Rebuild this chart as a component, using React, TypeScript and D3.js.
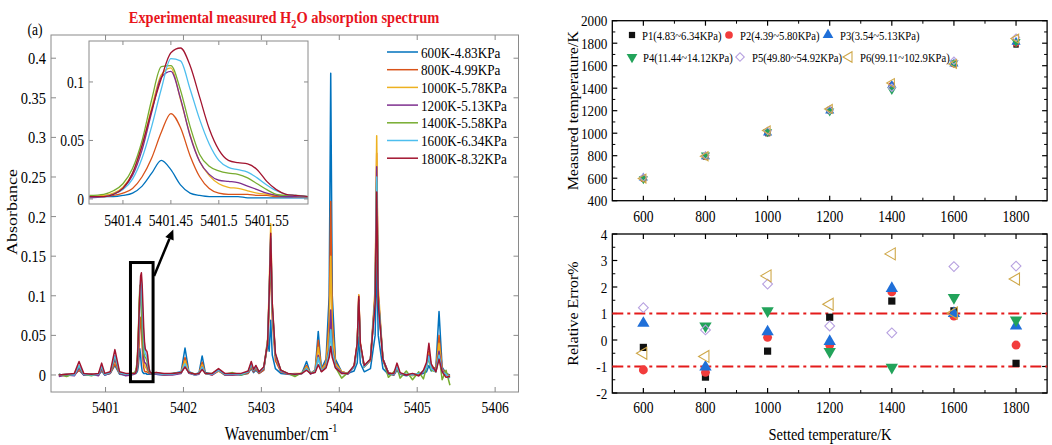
import React from "react";
import * as d3 from "d3";

// ---------------- Panel (a): spectrum data ----------------
const seriesLabels = [
  "600K-4.83KPa", "800K-4.99KPa", "1000K-5.78KPa", "1200K-5.13KPa",
  "1400K-5.58KPa", "1600K-6.34KPa", "1800K-8.32KPa",
];

const wnMain = [
  5400.40, 5400.50, 5400.60, 5400.66, 5400.72, 5400.82, 5400.91, 5400.95, 5400.99, 5401.06,
  5401.12, 5401.18, 5401.26, 5401.33, 5401.65, 5401.75, 5401.86, 5401.97, 5402.02, 5402.07,
  5402.15, 5402.20, 5402.24, 5402.28, 5402.37, 5402.45, 5402.53, 5402.63, 5402.74, 5402.83,
  5402.87, 5402.90, 5402.93, 5402.97, 5403.03, 5403.08, 5403.10, 5403.12, 5403.14, 5403.18,
  5403.25, 5403.34, 5403.43, 5403.52, 5403.58, 5403.63, 5403.69, 5403.73, 5403.77, 5403.83,
  5403.87, 5403.89, 5403.91, 5403.95, 5404.03, 5404.11, 5404.19, 5404.23, 5404.25, 5404.27,
  5404.32, 5404.40, 5404.46, 5404.48, 5404.50, 5404.56, 5404.63, 5404.70, 5404.74, 5404.78,
  5404.86, 5404.94, 5405.02, 5405.08, 5405.12, 5405.15, 5405.18, 5405.24, 5405.28, 5405.32,
  5405.37, 5405.42,
];

const abs600 = [
  0.001, -0.001, 0.001, 0.006, 0.000, 0.001, 0.000, 0.005, 0.000, 0.002,
  0.012, 0.001, 0.000, 0.001, 0.001, 0.000, 0.002, 0.004, 0.034, 0.004,
  0.001, 0.003, 0.024, 0.003, 0.001, 0.006, 0.000, 0.001, 0.000, 0.002,
  0.008, 0.003, 0.006, 0.002, 0.006, 0.044, 0.030, 0.069, 0.025, 0.008,
  0.002, 0.001, 0.000, 0.002, 0.017, 0.002, 0.006, 0.055, 0.008, 0.020,
  0.100, 0.381, 0.100, 0.020, 0.004, 0.002, 0.005, 0.015, 0.048, 0.015,
  0.004, 0.008, 0.050, 0.145, 0.050, 0.008, 0.001, 0.000, 0.006, 0.001,
  -0.001, 0.001, 0.000, 0.002, 0.004, 0.012, 0.005, 0.010, 0.080, 0.010,
  0.002, 0.000,
];
const abs800 = [
  0.000, 0.001, 0.000, 0.006, 0.001, 0.000, 0.001, 0.006, 0.001, 0.002,
  0.014, 0.002, 0.001, 0.001, 0.002, 0.001, 0.001, 0.003, 0.022, 0.003,
  0.000, 0.002, 0.016, 0.002, 0.000, 0.005, 0.001, 0.000, 0.001, 0.002,
  0.010, 0.004, 0.008, 0.002, 0.006, 0.040, 0.085, 0.150, 0.070, 0.018,
  0.004, 0.001, 0.001, 0.002, 0.012, 0.002, 0.005, 0.044, 0.007, 0.016,
  0.070, 0.219, 0.070, 0.016, 0.004, 0.002, 0.010, 0.040, 0.101, 0.040,
  0.010, 0.018, 0.100, 0.280, 0.100, 0.018, 0.003, 0.001, 0.008, 0.002,
  0.000, 0.001, 0.001, 0.004, 0.012, 0.030, 0.010, 0.008, 0.050, 0.008,
  0.002, -0.001,
];
const abs1000 = [
  0.000, 0.000, 0.001, 0.008, 0.001, 0.001, 0.000, 0.007, 0.001, 0.003,
  0.018, 0.002, 0.000, 0.001, 0.002, 0.000, 0.001, 0.003, 0.018, 0.003,
  0.001, 0.002, 0.013, 0.002, 0.001, 0.005, 0.000, 0.001, 0.001, 0.003,
  0.012, 0.005, 0.009, 0.003, 0.008, 0.045, 0.110, 0.191, 0.090, 0.025,
  0.005, 0.001, 0.002, 0.002, 0.010, 0.002, 0.005, 0.035, 0.006, 0.014,
  0.055, 0.150, 0.055, 0.014, 0.004, 0.002, 0.010, 0.040, 0.101, 0.040,
  0.010, 0.020, 0.110, 0.302, 0.110, 0.020, 0.003, 0.000, 0.008, 0.002,
  0.001, -0.001, 0.001, 0.004, 0.011, 0.028, 0.010, 0.007, 0.040, 0.007,
  0.001, -0.002,
];
const abs1200 = [
  -0.002, 0.000, -0.001, 0.009, 0.000, 0.001, -0.001, 0.008, 0.000, 0.002,
  0.020, 0.002, -0.001, 0.000, 0.001, 0.000, 0.000, 0.002, 0.012, 0.002,
  0.000, 0.001, 0.010, 0.002, 0.000, 0.006, 0.000, 0.000, 0.001, 0.003,
  0.013, 0.005, 0.010, 0.003, 0.008, 0.040, 0.100, 0.172, 0.085, 0.025,
  0.005, 0.001, 0.001, 0.002, 0.008, 0.001, 0.004, 0.025, 0.005, 0.011,
  0.035, 0.082, 0.035, 0.011, 0.003, 0.001, 0.010, 0.038, 0.095, 0.038,
  0.010, 0.020, 0.100, 0.263, 0.100, 0.020, 0.003, 0.000, 0.009, 0.002,
  0.000, 0.001, -0.001, 0.004, 0.010, 0.025, 0.009, 0.006, 0.030, 0.006,
  0.000, -0.003,
];
const abs1400 = [
  0.001, -0.002, 0.002, 0.011, 0.001, -0.001, 0.002, 0.010, 0.001, 0.003,
  0.024, 0.003, 0.001, 0.002, 0.003, 0.001, 0.002, 0.003, 0.012, 0.003,
  0.001, 0.002, 0.009, 0.002, 0.002, 0.007, 0.001, 0.003, 0.000, 0.004,
  0.014, 0.006, 0.011, 0.004, 0.009, 0.038, 0.095, 0.168, 0.080, 0.025,
  0.006, 0.002, -0.002, 0.003, 0.008, 0.002, 0.004, 0.022, 0.005, 0.010,
  0.030, 0.057, 0.030, 0.010, -0.004, 0.003, 0.010, 0.036, 0.090, 0.036,
  0.010, 0.020, 0.095, 0.244, 0.095, 0.020, -0.003, 0.004, 0.010, -0.004,
  0.005, -0.006, 0.004, -0.005, 0.010, 0.022, 0.006, 0.004, 0.025, -0.006,
  0.006, -0.013,
];
const abs1600 = [
  0.000, 0.001, 0.000, 0.012, 0.001, 0.000, 0.001, 0.011, 0.001, 0.003,
  0.025, 0.003, 0.001, 0.001, 0.002, 0.001, 0.001, 0.003, 0.014, 0.003,
  0.000, 0.002, 0.010, 0.002, 0.001, 0.006, 0.001, 0.001, 0.001, 0.004,
  0.014, 0.006, 0.011, 0.004, 0.009, 0.040, 0.100, 0.175, 0.085, 0.026,
  0.005, 0.002, 0.001, 0.002, 0.008, 0.002, 0.004, 0.022, 0.005, 0.010,
  0.030, 0.057, 0.030, 0.010, 0.002, 0.002, 0.010, 0.037, 0.092, 0.037,
  0.010, 0.020, 0.095, 0.250, 0.095, 0.020, 0.002, 0.001, 0.010, 0.002,
  0.001, 0.000, 0.002, 0.004, 0.010, 0.024, 0.008, 0.004, 0.025, 0.004,
  0.001, -0.004,
];
const abs1800 = [
  0.000, 0.001, 0.002, 0.017, 0.002, 0.001, 0.002, 0.015, 0.002, 0.004,
  0.032, 0.004, 0.002, 0.002, 0.003, 0.002, 0.002, 0.003, 0.010, 0.003,
  0.001, 0.002, 0.007, 0.002, 0.002, 0.008, 0.002, 0.002, 0.002, 0.005,
  0.017, 0.007, 0.012, 0.004, 0.010, 0.040, 0.100, 0.179, 0.090, 0.027,
  0.006, 0.002, 0.001, 0.002, 0.006, 0.002, 0.003, 0.013, 0.004, 0.009,
  0.022, 0.036, 0.022, 0.009, 0.002, 0.002, 0.012, 0.040, 0.099, 0.040,
  0.012, 0.020, 0.090, 0.231, 0.090, 0.020, 0.002, 0.002, 0.015, 0.003,
  0.000, 0.002, -0.001, 0.006, 0.016, 0.040, 0.014, 0.004, 0.020, 0.004,
  -0.003, -0.002,
];

// inset (zoomed peak near 5401.45)
const wnInset = [
  5401.365, 5401.38, 5401.39, 5401.40, 5401.41, 5401.42, 5401.43, 5401.44, 5401.45, 5401.46,
  5401.47, 5401.48, 5401.49, 5401.50, 5401.51, 5401.52, 5401.53, 5401.54, 5401.55, 5401.56,
  5401.57, 5401.58, 5401.593,
];
const ins600 = [0.002, 0.002, 0.002, 0.003, 0.005, 0.011, 0.022, 0.033, 0.025, 0.012, 0.005, 0.003, 0.002, 0.002, 0.002, 0.002, 0.001, 0.001, 0.001, 0.001, 0.001, 0.001, 0.001];
const ins800 = [0.002, 0.002, 0.003, 0.005, 0.009, 0.019, 0.035, 0.057, 0.073, 0.061, 0.037, 0.019, 0.009, 0.005, 0.004, 0.004, 0.004, 0.003, 0.003, 0.002, 0.002, 0.002, 0.002];
const ins1000 = [0.002, 0.003, 0.005, 0.010, 0.022, 0.045, 0.078, 0.106, 0.112, 0.085, 0.055, 0.032, 0.020, 0.013, 0.010, 0.009, 0.007, 0.005, 0.004, 0.003, 0.003, 0.002, 0.002];
const ins1200 = [0.001, 0.002, 0.004, 0.009, 0.020, 0.042, 0.074, 0.104, 0.109, 0.086, 0.054, 0.032, 0.021, 0.016, 0.015, 0.014, 0.011, 0.008, 0.005, 0.003, 0.002, 0.002, 0.002];
const ins1400 = [0.003, 0.004, 0.007, 0.013, 0.026, 0.050, 0.085, 0.113, 0.114, 0.093, 0.062, 0.038, 0.028, 0.024, 0.022, 0.021, 0.018, 0.013, 0.008, 0.004, 0.003, 0.003, 0.002];
const ins1600 = [0.002, 0.002, 0.004, 0.008, 0.017, 0.035, 0.062, 0.094, 0.120, 0.118, 0.094, 0.068, 0.047, 0.033, 0.027, 0.025, 0.023, 0.018, 0.012, 0.007, 0.004, 0.003, 0.002];
const ins1800 = [0.002, 0.002, 0.004, 0.009, 0.022, 0.046, 0.076, 0.103, 0.125, 0.129, 0.114, 0.087, 0.060, 0.042, 0.033, 0.031, 0.030, 0.025, 0.015, 0.008, 0.004, 0.003, 0.002];

const xTicksA = [5401, 5402, 5403, 5404, 5405, 5406];
const yTicksA = [0, 0.05, 0.1, 0.15, 0.2, 0.25, 0.3, 0.35, 0.4];
const xTicksIn = [5401.4, 5401.45, 5401.5, 5401.55];
const yTicksIn = [0, 0.05, 0.1];

// ---------------- Panel (b) data ----------------
const setTemps = [600, 800, 1000, 1200, 1400, 1600, 1800];
const pLabels = [
  "P1(4.83~6.34KPa)", "P2(4.39~5.80KPa)", "P3(3.54~5.13KPa)",
  "P4(11.44~14.12KPa)", "P5(49.80~54.92KPa)", "P6(99.11~102.9KPa)",
];
const measP1 = [598, 789, 996, 1210, 1421, 1618, 1784];
const measP2 = [593, 790, 1001, 1198, 1425, 1614, 1797];
const measP3 = [604, 792, 1003, 1199, 1427, 1616, 1810];
const measP4 = [594, 804, 1011, 1195, 1386, 1626, 1814];
const measP5 = [607, 803, 1021, 1206, 1404, 1644, 1850];
const measP6 = [597, 795, 1024, 1216, 1446, 1616, 1841];

const errP1 = [-0.28, -1.40, -0.42, 0.86, 1.47, 1.10, -0.88];
const errP2 = [-1.13, -1.22, 0.10, -0.19, 1.82, 0.90, -0.19];
const errP3 = [0.63, -1.02, 0.31, -0.05, 1.95, 1.00, 0.53];
const errP4 = [null, 0.53, 1.10, -0.44, -1.03, 1.60, 0.75];
const errP5 = [1.22, 0.38, 2.11, 0.53, 0.27, 2.77, 2.79];
const errP6 = [-0.50, -0.62, 2.42, 1.35, 3.25, 1.02, 2.30];
const errBands = [1, -1];

const tempTicks = [600, 800, 1000, 1200, 1400, 1600, 1800];
const tempMinor = [700, 900, 1100, 1300, 1500, 1700];
const measTicks = [400, 600, 800, 1000, 1200, 1400, 1600, 1800, 2000];
const measMinor = [500, 700, 900, 1100, 1300, 1500, 1700, 1900];
const errTicks = [-2, -1, 0, 1, 2, 3, 4];
const errMinor = [-1.5, -0.5, 0.5, 1.5, 2.5, 3.5];

// ---------------- styles ----------------
const lineColors = ["#0072BD", "#D95319", "#EDB120", "#7E2F8E", "#77AC30", "#4DBEEE", "#A2142F"];
const FONT = "'Liberation Serif','Times New Roman',serif";
const SX = 0.85;
const GRAY = "#8a8a8a";

const markerStyles = [
  { shape: d3.symbolSquare, rot: 0, fill: "#111", stroke: "none", size: 52 },
  { shape: d3.symbolCircle, rot: 0, fill: "#f23c3c", stroke: "none", size: 62 },
  { shape: d3.symbolTriangle, rot: 0, fill: "#1f6fd8", stroke: "none", size: 66 },
  { shape: d3.symbolTriangle, rot: 180, fill: "#22a35a", stroke: "none", size: 66 },
  { shape: d3.symbolSquare, rot: 45, fill: "none", stroke: "#b7a1e0", size: 48 },
  { shape: d3.symbolTriangle, rot: -90, fill: "none", stroke: "#cfa84a", size: 62 },
];

function Txt({ x, y, size = 16, anchor = "middle", rotate = 0, weight = "normal", fill = "#000", children }: any) {
  return (
    <text
      transform={`translate(${x},${y}) scale(${SX},1)${rotate ? ` rotate(${rotate})` : ""}`}
      fontSize={size}
      textAnchor={anchor}
      fontFamily={FONT}
      fontWeight={weight}
      fill={fill}
    >
      {children}
    </text>
  );
}

function Marker({ x, y, k, scale = 1 }: any) {
  const m = markerStyles[k];
  const d = d3.symbol().type(m.shape).size(m.size * scale)() as string;
  return (
    <path
      d={d}
      transform={`translate(${x},${y}) rotate(${m.rot})`}
      fill={m.fill}
      stroke={m.stroke}
      strokeWidth={m.fill === "none" ? 1.1 : 0}
    />
  );
}

export default function App() {
  // ---- panel (a) scales
  const xA = d3.scaleLinear().domain([5400.3, 5406.3]).range([51, 518.5]);
  const yA = d3.scaleLinear().domain([-0.0215, 0.4293]).range([392, 35]);
  const xI = d3.scaleLinear().domain([5401.3646, 5401.593]).range([89, 308]);
  const yI = d3.scaleLinear().domain([-0.0043, 0.135]).range([204, 41]);

  const mainSeries = [abs600, abs800, abs1000, abs1200, abs1400, abs1600, abs1800];
  const insetSeries = [ins600, ins800, ins1000, ins1200, ins1400, ins1600, ins1800];

  const fullSeries = mainSeries.map((arr, i) =>
    d3.sort(
      [
        ...wnMain.map((w, j) => [w, arr[j]] as [number, number]),
        ...wnInset.map((w, j) => [w, insetSeries[i][j]] as [number, number]),
      ],
      (d) => d[0]
    )
  );
  const lineA = d3.line<[number, number]>().x((d) => xA(d[0])).y((d) => yA(d[1]));
  const lineI = d3
    .line<[number, number]>()
    .x((d) => xI(d[0]))
    .y((d) => yI(d[1]))
    .curve(d3.curveMonotoneX);

  const [ax0, ax1] = xA.range();
  const [ay0, ay1] = yA.range();
  const [ix0, ix1] = xI.range();
  const [iy0, iy1] = yI.range();

  // black box + arrow
  const bx0 = xA(5401.32), bx1 = xA(5401.61), by0 = yA(0.142), by1 = yA(-0.0085);
  const s = { x: bx1 + 1, y: yA(0.125) };
  const e = { x: xI(5401.4525), y: 229.5 };
  const len = Math.hypot(e.x - s.x, e.y - s.y);
  const ux = (e.x - s.x) / len, uy = (e.y - s.y) / len;
  const hl = 10, hw = 4.5;
  const hb = { x: e.x - ux * hl, y: e.y - uy * hl };
  const head = `M${e.x},${e.y}L${hb.x - uy * hw},${hb.y + ux * hw}L${hb.x + uy * hw},${hb.y - ux * hw}Z`;

  // ---- panel (b) scales
  const xR = d3.scaleLinear().domain([500, 1900]).range([612.3, 1047.1]);
  const yT = d3.scaleLinear().domain([400, 2000]).range([200.7, 20.7]);
  const yB = d3.scaleLinear().domain([-2, 4]).range([393, 234]);
  const [rx0, rx1] = xR.range();

  const measSeries = [measP1, measP2, measP3, measP4, measP5, measP6];
  const errSeries = [errP1, errP2, errP3, errP4, errP5, errP6];

  const frameR = (y0: number, y1: number, yScale: any, yMaj: number[], yMin: number[]) => (
    <g>
      <rect x={rx0} y={y1} width={rx1 - rx0} height={y0 - y1} fill="none" stroke="#000" strokeWidth={1.3} />
      {tempTicks.map((t) => (
        <g key={"xt" + t}>
          <line x1={xR(t)} x2={xR(t)} y1={y0} y2={y0 - 5} stroke="#000" strokeWidth={1.2} />
          <line x1={xR(t)} x2={xR(t)} y1={y1} y2={y1 + 5} stroke="#000" strokeWidth={1.2} />
        </g>
      ))}
      {tempMinor.map((t) => (
        <g key={"xm" + t}>
          <line x1={xR(t)} x2={xR(t)} y1={y0} y2={y0 - 3} stroke="#000" strokeWidth={1} />
          <line x1={xR(t)} x2={xR(t)} y1={y1} y2={y1 + 3} stroke="#000" strokeWidth={1} />
        </g>
      ))}
      {yMaj.map((t) => (
        <g key={"yt" + t}>
          <line x1={rx0} x2={rx0 + 5} y1={yScale(t)} y2={yScale(t)} stroke="#000" strokeWidth={1.2} />
          <line x1={rx1} x2={rx1 - 5} y1={yScale(t)} y2={yScale(t)} stroke="#000" strokeWidth={1.2} />
          <Txt x={rx0 - 5} y={yScale(t) + 5.5} anchor="end" size={15.5}>{String(t)}</Txt>
        </g>
      ))}
      {yMin.map((t) => (
        <g key={"ym" + t}>
          <line x1={rx0} x2={rx0 + 3} y1={yScale(t)} y2={yScale(t)} stroke="#000" strokeWidth={1} />
          <line x1={rx1} x2={rx1 - 3} y1={yScale(t)} y2={yScale(t)} stroke="#000" strokeWidth={1} />
        </g>
      ))}
    </g>
  );

  return (
    <svg
      width={1052}
      height={445}
      style={{ position: "absolute", left: 0, top: 0, background: "#fff" }}
      fontFamily={FONT}
    >
      <defs>
        <clipPath id="clipA">
          <rect x={ax0} y={ay1} width={ax1 - ax0} height={ay0 - ay1} />
        </clipPath>
        <clipPath id="clipI">
          <rect x={ix0} y={iy1} width={ix1 - ix0} height={iy0 - iy1} />
        </clipPath>
      </defs>
      <rect x={0} y={0} width={1052} height={445} fill="#fff" />

      {/* ================= Panel (a) ================= */}
      <g clipPath="url(#clipA)">
        {fullSeries.map((pts, i) => (
          <path key={i} d={lineA(pts) as string} fill="none" stroke={lineColors[i]} strokeWidth={1.5} strokeLinejoin="round" />
        ))}
      </g>
      <rect x={ax0} y={ay1} width={ax1 - ax0} height={ay0 - ay1} fill="none" stroke={GRAY} strokeWidth={1} />
      {xTicksA.map((t) => (
        <g key={"ax" + t}>
          <line x1={xA(t)} x2={xA(t)} y1={ay0} y2={ay0 - 5} stroke={GRAY} />
          <line x1={xA(t)} x2={xA(t)} y1={ay1} y2={ay1 + 5} stroke={GRAY} />
          <Txt x={xA(t)} y={413} size={16}>{String(t)}</Txt>
        </g>
      ))}
      {yTicksA.map((t) => (
        <g key={"ay" + t}>
          <line x1={ax0} x2={ax0 + 5} y1={yA(t)} y2={yA(t)} stroke={GRAY} />
          <line x1={ax1} x2={ax1 - 5} y1={yA(t)} y2={yA(t)} stroke={GRAY} />
          <Txt x={46} y={yA(t) + 6} anchor="end" size={17}>{String(t)}</Txt>
        </g>
      ))}
      <Txt x={17} y={212} rotate={-90} size={18}>Absorbance</Txt>
      <text transform={`translate(281,440) scale(${SX},1)`} fontSize={18} textAnchor="middle" fontFamily={FONT}>
        Wavenumber/cm<tspan dy={-8} fontSize={12}>-1</tspan>
      </text>
      <Txt x={35} y={35} size={16}>(a)</Txt>
      <text transform={`translate(284,23) scale(${SX},1)`} fontSize={17} fontWeight="bold" textAnchor="middle" fontFamily={FONT} fill="#e8141c">
        Experimental measured H<tspan dy={5} fontSize={12}>2</tspan><tspan dy={-5}>O absorption spectrum</tspan>
      </text>

      {/* inset */}
      <rect x={ix0} y={iy1} width={ix1 - ix0} height={iy0 - iy1} fill="#fff" stroke="none" />
      <g clipPath="url(#clipI)">
        {insetSeries.map((arr, i) => (
          <path
            key={i}
            d={lineI(wnInset.map((w, j) => [w, arr[j]] as [number, number])) as string}
            fill="none"
            stroke={lineColors[i]}
            strokeWidth={1.3}
          />
        ))}
      </g>
      <rect x={ix0} y={iy1} width={ix1 - ix0} height={iy0 - iy1} fill="none" stroke={GRAY} strokeWidth={1} />
      {xTicksIn.map((t) => (
        <g key={"ix" + t}>
          <line x1={xI(t)} x2={xI(t)} y1={iy0} y2={iy0 - 4} stroke={GRAY} />
          <line x1={xI(t)} x2={xI(t)} y1={iy1} y2={iy1 + 4} stroke={GRAY} />
          <Txt x={xI(t)} y={226} size={16}>{String(t)}</Txt>
        </g>
      ))}
      {yTicksIn.map((t) => (
        <g key={"iy" + t}>
          <line x1={ix0} x2={ix0 + 4} y1={yI(t)} y2={yI(t)} stroke={GRAY} />
          <line x1={ix1} x2={ix1 - 4} y1={yI(t)} y2={yI(t)} stroke={GRAY} />
          <Txt x={84} y={yI(t) + 6} anchor="end" size={16}>{String(t)}</Txt>
        </g>
      ))}

      {/* legend (a) */}
      {seriesLabels.map((lab, i) => {
        const ry = 52 + i * 17.7;
        return (
          <g key={lab}>
            <line x1={387} x2={418} y1={ry} y2={ry} stroke={lineColors[i]} strokeWidth={1.5} />
            <Txt x={421} y={ry + 5.5} anchor="start" size={15.5}>{lab}</Txt>
          </g>
        );
      })}

      {/* box and arrow */}
      <rect x={bx0} y={by0} width={bx1 - bx0} height={by1 - by0} fill="none" stroke="#000" strokeWidth={3} />
      <line x1={s.x} y1={s.y} x2={hb.x} y2={hb.y} stroke="#000" strokeWidth={2.5} />
      <path d={head} fill="#000" />

      {/* ================= Panel (b) top ================= */}
      {frameR(200.7, 20.7, yT, measTicks, measMinor)}
      {tempTicks.map((t) => (
        <Txt key={"tl" + t} x={xR(t)} y={221.5} size={16}>{String(t)}</Txt>
      ))}
      {measSeries.map((arr, k) =>
        arr.map((v, j) => <Marker key={k + "-" + j} x={xR(setTemps[j])} y={yT(v)} k={k} scale={0.55} />)
      )}
      <Txt x={578} y={110.7} rotate={-90} size={16}>Measured temperature/K</Txt>
      {/* legend (b) */}
      {pLabels.map((lab, k) => {
        const row = k < 3 ? 0 : 1;
        const ry = row === 0 ? 35 : 57;
        const mx = [632, 729, 828, 632, 740, 849][k];
        const tx = [642, 740, 840, 643, 752, 860][k];
        return (
          <g key={lab}>
            <Marker x={mx} y={ry} k={k} scale={0.75} />
            <Txt x={tx} y={ry + 4.5} anchor="start" size={12.5}>{lab}</Txt>
          </g>
        );
      })}

      {/* ================= Panel (b) bottom ================= */}
      {frameR(393, 234, yB, errTicks, errMinor)}
      {errBands.map((b) => (
        <line key={"band" + b} x1={rx0} x2={rx1} y1={yB(b)} y2={yB(b)} stroke="#e41b1b" strokeWidth={2} strokeDasharray="11 4 3 4" />
      ))}
      {tempTicks.map((t) => (
        <Txt key={"bl" + t} x={xR(t)} y={413} size={16}>{String(t)}</Txt>
      ))}
      {errSeries.map((arr, k) =>
        arr.map((v, j) =>
          v === null ? null : <Marker key={k + "-" + j} x={xR(setTemps[j])} y={yB(v)} k={k} scale={1} />
        )
      )}
      <Txt x={578} y={313.5} rotate={-90} size={16}>Relative Error%</Txt>
      <Txt x={830} y={440} size={17}>Setted temperature/K</Txt>
    </svg>
  );
}
